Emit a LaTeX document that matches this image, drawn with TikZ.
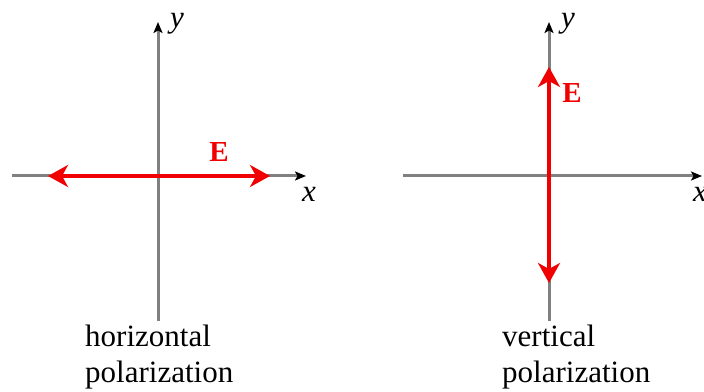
\documentclass[tikz,border=0pt]{standalone}
\usepackage{fontspec}
\setmainfont{Liberation Serif}
\usetikzlibrary{arrows.meta}
\definecolor{axisgray}{RGB}{128,128,128}
\definecolor{evecred}{RGB}{240,0,0}
\begin{document}
\begin{tikzpicture}[x=1pt,y=1pt,
  axisline/.style={draw=axisgray, line width=3pt, -{Stealth[black,length=11pt,width=9pt,inset=2.5pt]}},
  evec/.style={draw=evecred, line width=4pt, {Stealth[length=20pt,width=22pt,inset=6pt]}-{Stealth[length=20pt,width=22pt,inset=6pt]}},
  axlabel/.style={font=\fontsize{31}{36}\selectfont\itshape, inner sep=0pt},
  elabel/.style={font=\fontsize{29}{34}\selectfont\bfseries, text=evecred, inner sep=0pt},
  caption/.style={font=\fontsize{31}{36}\selectfont, align=left, inner sep=0pt, anchor=base west}
]
\useasboundingbox (0,0) rectangle (704,391);
% left panel
\coordinate (lxs) at (12,215);
\coordinate (lxe) at (306,215);
\coordinate (lys) at (158,70);
\coordinate (lye) at (158,369);
\coordinate (lel) at (48,215);
\coordinate (ler) at (270,215);
\draw[axisline] (lxs) -- (lxe);
\draw[axisline] (lys) -- (lye);
\draw[evec] (lel) -- (ler);
\node[elabel] (lE) at (219,239) {E};
\node[axlabel] (lx) at (309,197) {x};
\node[axlabel] (ly) at (177,367) {y};
\node[caption] (lcap) at (85,9) {horizontal\\polarization};
% right panel
\coordinate (rxs) at (403,215);
\coordinate (rxe) at (702,215);
\coordinate (rys) at (549,70);
\coordinate (rye) at (549,369);
\coordinate (reb) at (549,108);
\coordinate (ret) at (549,324);
\draw[axisline] (rxs) -- (rxe);
\draw[axisline] (rys) -- (rye);
\draw[evec] (reb) -- (ret);
\node[elabel] (rE) at (572,298) {E};
\node[axlabel] (rx) at (700,197) {x};
\node[axlabel] (ry) at (568,367) {y};
\node[caption] (rcap) at (502,9) {vertical\\polarization};
\end{tikzpicture}
\end{document}
